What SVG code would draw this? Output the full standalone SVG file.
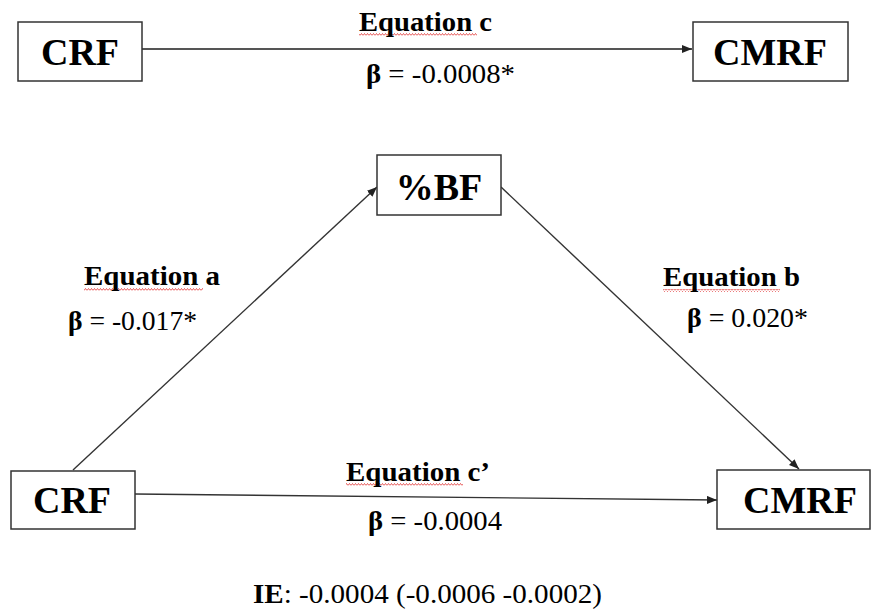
<svg xmlns="http://www.w3.org/2000/svg" width="872" height="615" viewBox="0 0 872 615">
<style>
.box{fill:#fff;stroke:#333;stroke-width:1.5}
.nt{font-family:"Liberation Serif","Times New Roman",serif;font-weight:bold;font-size:38px;fill:#000;text-anchor:middle}
.lab{font-family:"Liberation Serif","Times New Roman",serif;font-size:27px;fill:#000}
.eq{font-weight:bold}
.conn{stroke:#333;stroke-width:1.4;fill:none}
.sq{fill:url(#wave)}
</style>
<defs>
<marker id="arr" markerUnits="userSpaceOnUse" markerWidth="11" markerHeight="9" refX="10" refY="4" orient="auto">
<path d="M0,0 L10,4 L0,8 z" fill="#222"/>
</marker>
<pattern id="wave" patternUnits="userSpaceOnUse" width="3" height="3">
<path d="M0,2.5 L1.5,0.5 L3,2.5" fill="none" stroke="#e03030" stroke-width="0.8"/>
</pattern>
</defs>
<rect width="872" height="615" fill="#fff"/>
<g id="connectors">
<line class="conn" x1="142" y1="49" x2="692" y2="49" marker-end="url(#arr)" style="stroke:#555;stroke-width:2"/>
<line class="conn" x1="73" y1="470" x2="377" y2="187" marker-end="url(#arr)"/>
<line class="conn" x1="501" y1="187" x2="799" y2="469" marker-end="url(#arr)"/>
<line class="conn" x1="135" y1="494" x2="717" y2="500" marker-end="url(#arr)"/>
</g>
<g id="crf-top">
<rect class="box" x="18" y="22" width="124" height="59"/>
<text class="nt" x="80" y="65">CRF</text>
</g>
<g id="cmrf-top">
<rect class="box" x="693" y="22" width="155" height="59"/>
<text class="nt" x="770" y="65">CMRF</text>
</g>
<g id="bf">
<rect class="box" x="377" y="155" width="124" height="60"/>
<text class="nt" x="439" y="200">%BF</text>
</g>
<g id="crf-bottom">
<rect class="box" x="11" y="471" width="124" height="58"/>
<text class="nt" x="72" y="513">CRF</text>
</g>
<g id="cmrf-bottom">
<rect class="box" x="717" y="470" width="153" height="59"/>
<text class="nt" x="800" y="513">CMRF</text>
</g>
<g id="labels">
<rect class="sq" x="359" y="33" width="118" height="3"/>
<text class="lab eq" x="359" y="31" textLength="133" lengthAdjust="spacingAndGlyphs">Equation c</text>
<text class="lab" x="366" y="83" textLength="149" lengthAdjust="spacingAndGlyphs"><tspan font-weight="bold">β</tspan> = -0.0008*</text>

<rect class="sq" x="84" y="288" width="119" height="3"/>
<text class="lab eq" x="84" y="285" textLength="136" lengthAdjust="spacingAndGlyphs">Equation a</text>
<text class="lab" x="68" y="330" textLength="129" lengthAdjust="spacingAndGlyphs"><tspan font-weight="bold">β</tspan> = -0.017*</text>

<rect class="sq" x="663" y="289" width="117" height="3"/>
<text class="lab eq" x="663" y="286" textLength="137" lengthAdjust="spacingAndGlyphs">Equation b</text>
<text class="lab" x="687" y="327" textLength="121" lengthAdjust="spacingAndGlyphs"><tspan font-weight="bold">β</tspan> = 0.020*</text>

<rect class="sq" x="346" y="483" width="117" height="3"/>
<text class="lab eq" x="346" y="481" textLength="144" lengthAdjust="spacingAndGlyphs">Equation c’</text>
<text class="lab" x="368" y="530" textLength="134" lengthAdjust="spacingAndGlyphs"><tspan font-weight="bold">β</tspan> = -0.0004</text>

<text class="lab" x="253" y="603" textLength="349" lengthAdjust="spacingAndGlyphs"><tspan font-weight="bold">IE</tspan>: -0.0004 (-0.0006 -0.0002)</text>
</g>
</svg>
